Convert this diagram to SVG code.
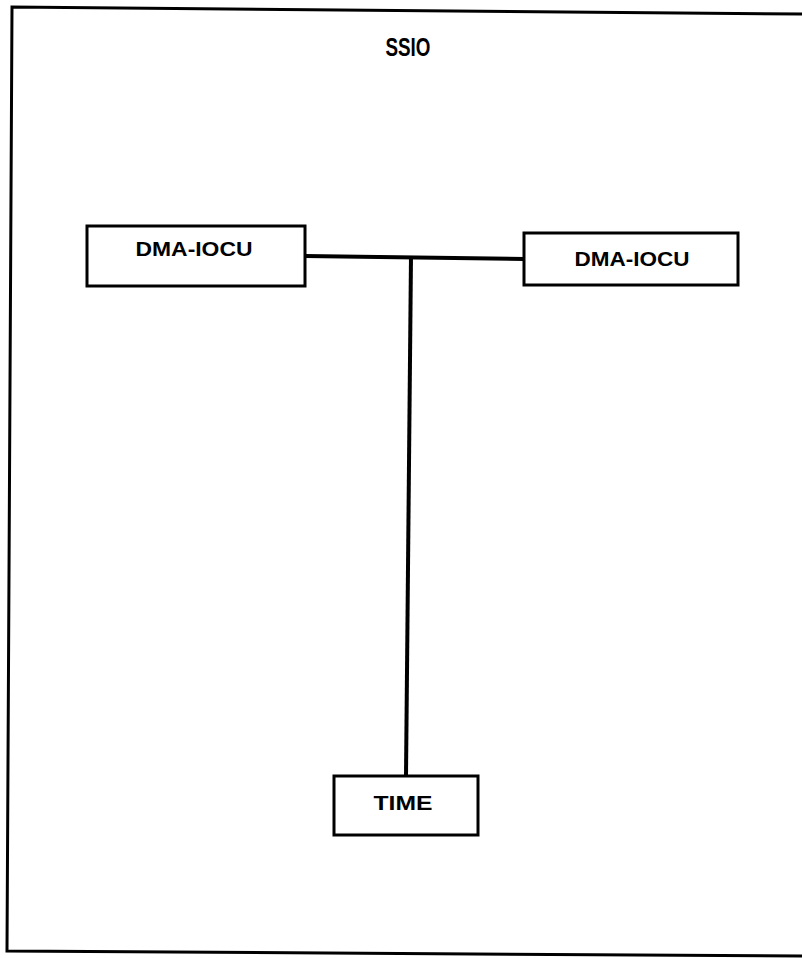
<svg xmlns="http://www.w3.org/2000/svg" width="802" height="958" viewBox="0 0 802 958">
<style>
.box{fill:#fff;stroke:#000;stroke-width:3}
.lbl{font-family:"Liberation Sans",Arial,sans-serif;font-weight:bold;font-size:20px;fill:#000;text-anchor:middle}
.title{font-size:25px}
.conn{stroke:#000;stroke-width:4;fill:none}
</style>
<rect width="802" height="958" fill="#fff"/>
<path d="M802,14 L12,7 L7,951 L802,956" fill="none" stroke="#000" stroke-width="3"/>
<text x="408" y="56" class="lbl title" textLength="45" lengthAdjust="spacingAndGlyphs">SSIO</text>
<g id="connectors">
<line class="conn" x1="305" y1="256" x2="524" y2="259"/>
<line class="conn" x1="411" y1="256" x2="406" y2="776"/>
</g>
<g id="dma-left">
<rect class="box" x="87" y="226" width="218" height="60"/>
<text class="lbl" x="194" y="256" textLength="117" lengthAdjust="spacingAndGlyphs">DMA-IOCU</text>
</g>
<g id="dma-right">
<rect class="box" x="524" y="233" width="214" height="52"/>
<text class="lbl" x="632" y="266" textLength="115" lengthAdjust="spacingAndGlyphs">DMA-IOCU</text>
</g>
<g id="time">
<rect class="box" x="334" y="776" width="144" height="59"/>
<text class="lbl" x="403" y="810" textLength="59" lengthAdjust="spacingAndGlyphs">TIME</text>
</g>
</svg>
